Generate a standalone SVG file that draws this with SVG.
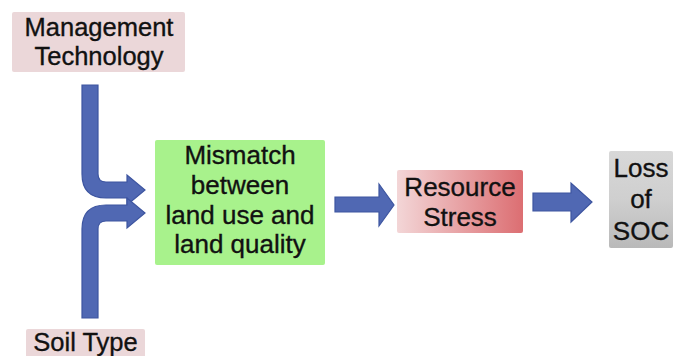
<svg xmlns="http://www.w3.org/2000/svg" width="674" height="356" viewBox="0 0 674 356">
<defs>
<linearGradient id="gRed" x1="0" y1="0" x2="1" y2="0">
<stop offset="0" stop-color="#f3d6d7"/>
<stop offset="1" stop-color="#dc6e72"/>
</linearGradient>
<linearGradient id="gGray" x1="0" y1="0" x2="0" y2="1">
<stop offset="0" stop-color="#d8d8d8"/>
<stop offset="0.5" stop-color="#cfcfcf"/>
<stop offset="1" stop-color="#b9b9b9"/>
</linearGradient>
</defs>
<style>
text{font-family:"Liberation Sans",Arial,sans-serif;fill:#111;stroke:#111;stroke-width:0.35;text-anchor:middle}
.t25{font-size:25.5px}
.t26{font-size:26px}
.arrow{fill:#5068b3;stroke:#3d55a0;stroke-width:1.2;stroke-linejoin:miter}
</style>
<rect width="674" height="356" fill="#ffffff"/>
<g id="management">
<rect x="12" y="12" width="173" height="60" rx="2" fill="#ebd7d9"/>
<text class="t25" x="99" y="36">Management</text>
<text class="t25" x="99" y="65">Technology</text>
</g>
<g id="soil">
<rect x="26" y="329" width="119" height="30" rx="2" fill="#ebd7d9"/>
<text class="t25" x="85.5" y="351">Soil Type</text>
</g>
<g id="mismatch">
<rect x="155" y="140" width="170" height="125" rx="2" fill="#a8f28c"/>
<text class="t26" x="240" y="164">Mismatch</text>
<text class="t26" x="240" y="194">between</text>
<text class="t26" x="240" y="224">land use and</text>
<text class="t26" x="240" y="253">land quality</text>
</g>
<g id="resource">
<rect x="397" y="170" width="126" height="63" rx="2" fill="url(#gRed)"/>
<text class="t26" x="460" y="196">Resource</text>
<text class="t26" x="460" y="226">Stress</text>
</g>
<g id="soc">
<rect x="609" y="151" width="64" height="97" rx="2" fill="url(#gGray)"/>
<text class="t26" x="641" y="177">Loss</text>
<text class="t26" x="641" y="208">of</text>
<text class="t26" x="641" y="240">SOC</text>
</g>
<g id="connectors">
<path class="arrow" d="M82,85 L98,85 L98,174 Q98,182 106,182 L127,182 L127,175 L145,190 L127,205 L127,198 L106,198 Q82,198 82,174 Z"/>
<path class="arrow" d="M82,318 L82,229 Q82,205 106,205 L127,205 L127,198 L145,213 L127,228 L127,221 L106,221 Q98,221 98,229 L98,318 Z"/>
<path class="arrow" d="M335,197 L379,197 L379,184 L394,205 L379,226 L379,212 L335,212 Z"/>
<path class="arrow" d="M533,193 L571,193 L571,183 L592,202 L571,222 L571,211 L533,211 Z"/>
</g>
</svg>
